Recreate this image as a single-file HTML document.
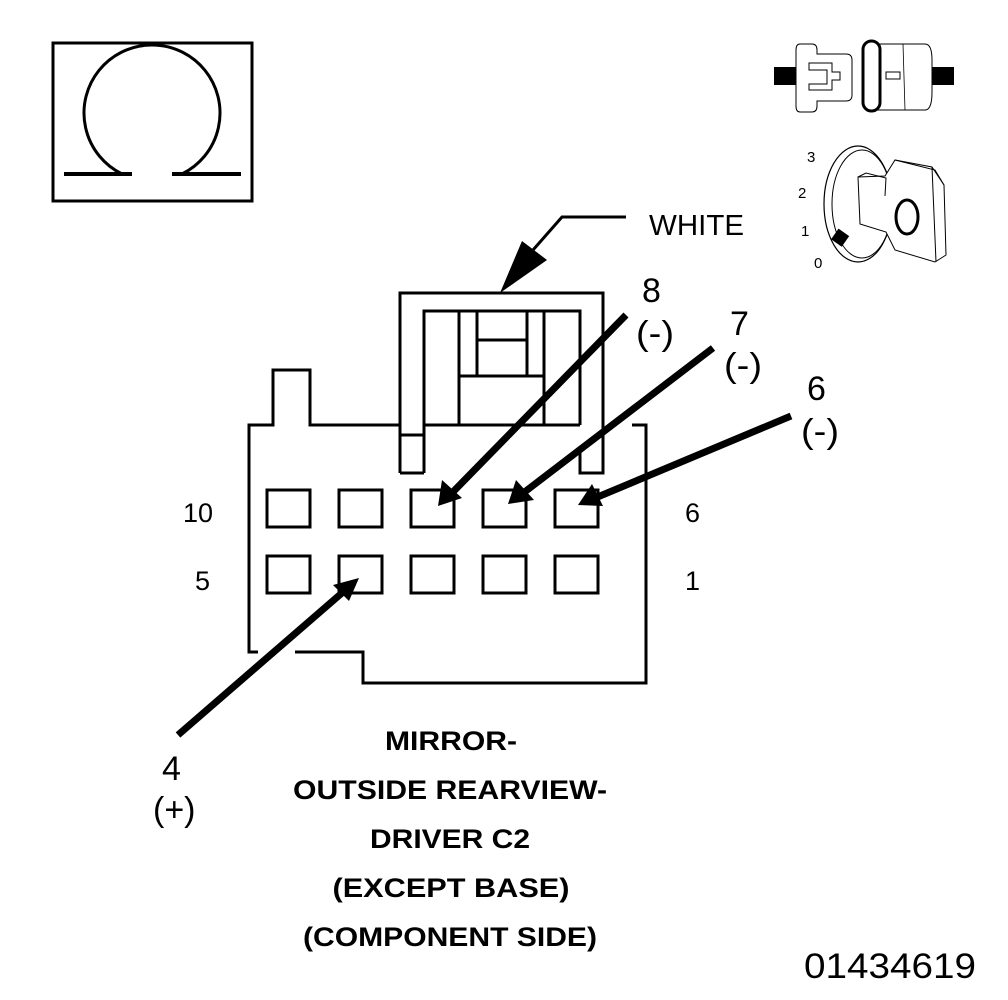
<!DOCTYPE html>
<html><head><style>
html,body{margin:0;padding:0;background:#fff;}
svg{display:block;}
text{font-family:"Liberation Sans",sans-serif;fill:#000;}
</style></head><body>
<svg width="1008" height="1000" viewBox="0 0 1008 1000" xmlns="http://www.w3.org/2000/svg">
<!-- Omega box -->
<rect x="53" y="43" width="199" height="158" fill="none" stroke="#000" stroke-width="3"/>
<path d="M122,174 A68,68 0 1 1 182,174" fill="none" stroke="#000" stroke-width="3"/>
<line x1="64" y1="174" x2="132" y2="174" stroke="#000" stroke-width="4"/>
<line x1="172" y1="174" x2="241" y2="174" stroke="#000" stroke-width="4"/>

<!-- top-right connector icon -->
<rect x="774" y="67" width="22" height="18" fill="#000"/>
<rect x="932" y="67" width="22" height="18" fill="#000"/>
<path d="M800,44 L812,44 Q817,44 817,50 L817,54 L846,54 Q852,54 852,60 L852,95 Q852,101 846,101 L817,101 L817,106 Q817,112 812,112 L800,112 Q796,112 796,106 L796,50 Q796,44 800,44 Z" fill="#fff" stroke="#000" stroke-width="1"/>
<path d="M809,63 L832,63 L832,72 L840,72 L840,80 L832,80 L832,90 L809,90 L809,84 L827,84 L827,70 L809,70 Z" fill="none" stroke="#000" stroke-width="1"/>
<path d="M878,44 L925,44 Q932,44 932,60 L932,92 Q932,110 925,110 L878,110 Z" fill="#fff" stroke="#000" stroke-width="1"/>
<line x1="903" y1="44" x2="905" y2="110" stroke="#000" stroke-width="0.8"/>
<rect x="886" y="72" width="14" height="7" fill="none" stroke="#000" stroke-width="1"/>
<rect x="863" y="41" width="17" height="70" rx="8.5" fill="#fff" stroke="#000" stroke-width="3"/>

<!-- key icon -->
<text x="807" y="162" font-size="15">3</text>
<text x="798" y="198" font-size="15">2</text>
<text x="801" y="236" font-size="15">1</text>
<text x="814" y="268" font-size="15">0</text>
<ellipse cx="858" cy="204" rx="34" ry="58" fill="#fff" stroke="#000" stroke-width="1.2"/>
<ellipse cx="862" cy="204" rx="30" ry="54" fill="none" stroke="#000" stroke-width="1"/>
<path d="M858,177 L885,176 L895,160 L935,170 L944,185 L946,255 L935,262 L895,250 L886,232 L860,224 Z" fill="#fff" stroke="#000" stroke-width="1"/>
<path d="M858,177 L866,173 L886,178 L885,196" fill="none" stroke="#000" stroke-width="1"/>
<path d="M895,160 L932,167 L944,185 M932,167 L936,262" fill="none" stroke="#000" stroke-width="1"/>
<ellipse cx="907" cy="217" rx="11" ry="17" fill="none" stroke="#000" stroke-width="3"/>
<rect x="834" y="231" width="13" height="13" fill="#000" transform="rotate(35 840 237)"/>

<!-- WHITE label and leader -->
<text x="649" y="235" font-size="29" textLength="95" lengthAdjust="spacingAndGlyphs">WHITE</text>
<polyline points="626,217 562,217 533,250" fill="none" stroke="#000" stroke-width="3"/>
<polygon points="500,293 522,241 547,260" fill="#000"/>

<!-- connector body -->
<g fill="none" stroke="#000" stroke-width="3">
<polyline points="258,652 249,652 249,425 273,425 273,370 310,370 310,425 400,425"/>
<polyline points="424,425 580,425"/>
<polyline points="632,425 646,425 646,683 363,683 363,652 295,652"/>
<polyline points="400,473 400,293 603,293 603,473 580,473 580,452"/>
<line x1="400" y1="435" x2="424" y2="435"/>
<polyline points="424,473 424,311 580,311 580,425"/>
<line x1="400" y1="473" x2="424" y2="473"/>
<line x1="459" y1="311" x2="459" y2="425"/>
<line x1="477" y1="311" x2="477" y2="376"/>
<line x1="527" y1="311" x2="527" y2="376"/>
<line x1="544" y1="311" x2="544" y2="425"/>
<line x1="477" y1="340" x2="527" y2="340"/>
<line x1="459" y1="376" x2="544" y2="376"/>
<rect x="267" y="490" width="43" height="37"/>
<rect x="339" y="490" width="43" height="37"/>
<rect x="411" y="490" width="43" height="37"/>
<rect x="483" y="490" width="43" height="37"/>
<rect x="555" y="490" width="43" height="37"/>
<rect x="267" y="556" width="43" height="37"/>
<rect x="339" y="556" width="43" height="37"/>
<rect x="411" y="556" width="43" height="37"/>
<rect x="483" y="556" width="43" height="37"/>
<rect x="555" y="556" width="43" height="37"/>
</g>

<!-- arrows -->
<g stroke="#000" stroke-width="7" fill="none">
<line x1="626" y1="315" x2="448" y2="497"/>
<line x1="713" y1="348" x2="518" y2="497"/>
<line x1="791" y1="416" x2="588" y2="501"/>
<line x1="178" y1="735" x2="350" y2="586"/>
</g>
<g fill="#000">
<polygon points="438,506 442,480 462,498"/>
<polygon points="508,504 516,480 534,500"/>
<polygon points="578,505 592,484 603,506"/>
<polygon points="359,578 349,601 333,585"/>
</g>

<!-- labels -->
<g font-size="34">
<text x="642" y="302">8</text>
<text x="636" y="345" textLength="38" lengthAdjust="spacingAndGlyphs">(-)</text>
<text x="730" y="335">7</text>
<text x="724" y="377" textLength="38" lengthAdjust="spacingAndGlyphs">(-)</text>
<text x="807" y="400">6</text>
<text x="801" y="443" textLength="38" lengthAdjust="spacingAndGlyphs">(-)</text>
<text x="162" y="780">4</text>
<text x="153" y="821">(+)</text>
</g>
<g font-size="27">
<text x="183" y="522">10</text>
<text x="195" y="590">5</text>
<text x="685" y="522">6</text>
<text x="685" y="590">1</text>
</g>
<g font-size="27" font-weight="bold" text-anchor="middle">
<text x="451" y="750" textLength="132" lengthAdjust="spacingAndGlyphs">MIRROR-</text>
<text x="450" y="799" textLength="314" lengthAdjust="spacingAndGlyphs">OUTSIDE REARVIEW-</text>
<text x="450" y="848" textLength="160" lengthAdjust="spacingAndGlyphs">DRIVER C2</text>
<text x="451" y="897" textLength="237" lengthAdjust="spacingAndGlyphs">(EXCEPT BASE)</text>
<text x="450" y="946" textLength="294" lengthAdjust="spacingAndGlyphs">(COMPONENT SIDE)</text>
</g>
<text x="804" y="978" font-size="35" textLength="172" lengthAdjust="spacingAndGlyphs">01434619</text>
</svg>
</body></html>
